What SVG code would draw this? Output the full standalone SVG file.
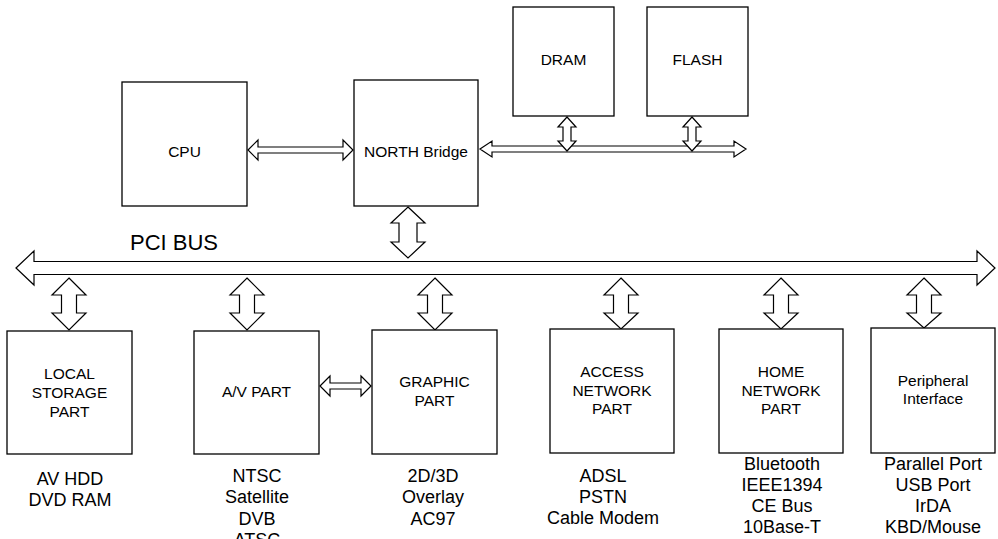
<svg xmlns="http://www.w3.org/2000/svg" width="998" height="539" viewBox="0 0 998 539">
<style>
.box{fill:#fff;stroke:#000;stroke-width:1.3}
.arr{fill:#fff;stroke:#000;stroke-width:1.2;stroke-linejoin:miter}
.lbl{font-family:"Liberation Sans",Arial,sans-serif;font-size:15.5px;fill:#000;text-anchor:middle}
.sub{font-family:"Liberation Sans",Arial,sans-serif;font-size:18px;fill:#000;text-anchor:middle}
.bus{font-family:"Liberation Sans",Arial,sans-serif;font-size:22px;fill:#000}
</style>
<rect width="998" height="539" fill="#fff"/>
<g id="connectors">
<polygon class="arr" points="248,150 258,140 258,147 343,147 343,140 353,150 343,160 343,153 258,153 258,160"/>
<polygon class="arr" points="480,149 492,141 492,146 734,146 734,141 746,149 734,157 734,152 492,152 492,157"/>
<polygon class="arr" points="567,117 576,127 571,127 571,141 576,141 567,151 558,141 563,141 563,127 558,127"/>
<polygon class="arr" points="692,117 701,127 696,127 696,141 701,141 692,151 683,141 688,141 688,127 683,127"/>
<polygon class="arr" points="408,207 425,223 417,223 417,242 425,242 408,258 391,242 399,242 399,223 391,223"/>
<polygon class="arr" points="16,268 34,251 34,261.5 977,261.5 977,251 995,268 977,285 977,274.5 34,274.5 34,285"/>
<polygon class="arr" points="69,278 86,295 76.5,295 76.5,313 86,313 69,330 52,313 61.5,313 61.5,295 52,295"/>
<polygon class="arr" points="247,278 264,295 254.5,295 254.5,313 264,313 247,330 230,313 239.5,313 239.5,295 230,295"/>
<polygon class="arr" points="435,278 452,295 442.5,295 442.5,313 452,313 435,330 418,313 427.5,313 427.5,295 418,295"/>
<polygon class="arr" points="621,278 638,295 628.5,295 628.5,313 638,313 621,329 604,313 613.5,313 613.5,295 604,295"/>
<polygon class="arr" points="781,278 798,295 788.5,295 788.5,313 798,313 781,329 764,313 773.5,313 773.5,295 764,295"/>
<polygon class="arr" points="924,278 941,295 931.5,295 931.5,313 941,313 924,328 907,313 916.5,313 916.5,295 907,295"/>
<polygon class="arr" points="320,386 330,376 330,383 361,383 361,376 371,386 361,396 361,389 330,389 330,396"/>
</g>
<text class="bus" x="130" y="250">PCI BUS</text>
<g id="cpu"><rect class="box" x="122" y="82" width="125" height="124"/><text class="lbl" x="184.5" y="157">CPU</text></g>
<g id="north"><rect class="box" x="354" y="80" width="124" height="126"/><text class="lbl" x="416" y="157">NORTH Bridge</text></g>
<g id="dram"><rect class="box" x="513" y="7" width="101" height="109"/><text class="lbl" x="563.5" y="65">DRAM</text></g>
<g id="flash"><rect class="box" x="647" y="7" width="101" height="109"/><text class="lbl" x="697.5" y="65">FLASH</text></g>
<g id="local"><rect class="box" x="7" y="331" width="125" height="123"/>
<text class="lbl" x="69.5" y="379">LOCAL</text><text class="lbl" x="69.5" y="398">STORAGE</text><text class="lbl" x="69.5" y="417">PART</text>
<text class="sub" x="70" y="485">AV HDD</text><text class="sub" x="70" y="506">DVD RAM</text></g>
<g id="av"><rect class="box" x="194" y="331" width="125" height="123"/>
<text class="lbl" x="256.5" y="397">A/V PART</text>
<text class="sub" x="257" y="482">NTSC</text><text class="sub" x="257" y="503">Satellite</text><text class="sub" x="257" y="525">DVB</text><text class="sub" x="257" y="546">ATSC</text></g>
<g id="graphic"><rect class="box" x="372" y="330" width="125" height="124"/>
<text class="lbl" x="434.5" y="387">GRAPHIC</text><text class="lbl" x="434.5" y="406">PART</text>
<text class="sub" x="433" y="482">2D/3D</text><text class="sub" x="433" y="503">Overlay</text><text class="sub" x="433" y="525">AC97</text></g>
<g id="access"><rect class="box" x="550" y="329" width="124" height="124"/>
<text class="lbl" x="612" y="377">ACCESS</text><text class="lbl" x="612" y="396">NETWORK</text><text class="lbl" x="612" y="414">PART</text>
<text class="sub" x="603" y="482">ADSL</text><text class="sub" x="603" y="503">PSTN</text><text class="sub" x="603" y="524">Cable Modem</text></g>
<g id="home"><rect class="box" x="719" y="329" width="124" height="124"/>
<text class="lbl" x="781" y="377">HOME</text><text class="lbl" x="781" y="396">NETWORK</text><text class="lbl" x="781" y="414">PART</text>
<text class="sub" x="782" y="470">Bluetooth</text><text class="sub" x="782" y="491">IEEE1394</text><text class="sub" x="782" y="512">CE Bus</text><text class="sub" x="782" y="533">10Base-T</text></g>
<g id="periph"><rect class="box" x="871" y="328" width="124" height="125"/>
<text class="lbl" x="933" y="386">Peripheral</text><text class="lbl" x="933" y="404">Interface</text>
<text class="sub" x="933" y="470">Parallel Port</text><text class="sub" x="933" y="491">USB Port</text><text class="sub" x="933" y="512">IrDA</text><text class="sub" x="933" y="533">KBD/Mouse</text></g>
</svg>
